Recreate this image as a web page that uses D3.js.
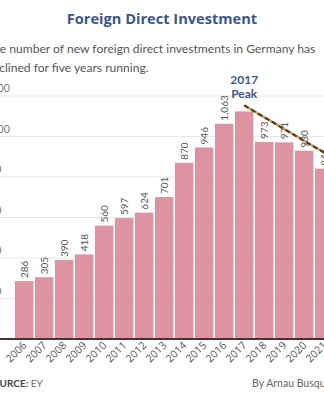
<!DOCTYPE html>
<html>
<head>
<meta charset="utf-8">
<script src="https://cdn.jsdelivr.net/npm/d3@7"></script>
<style>
  html, body { margin: 0; padding: 0; background: #fff; }
  svg { display: block; font-family: Lato, "Open Sans", sans-serif; }
</style>
</head>
<body>
<div id="chart"></div>
<script>
// FDI projects per year (EY)
const years = ["2006", "2007", "2008", "2009", "2010", "2011", "2012", "2013", "2014",
               "2015", "2016", "2017", "2018", "2019", "2020", "2021", "2022"];
const projects = [286, 305, 390, 418, 560, 597, 624, 701, 870,
                  946, 1063, 1124, 973, 971, 930, 841, 832];
const yTicks = [0, 200, 400, 600, 800, 1000, 1200];
const peakYear = "2017";
const trendEnd = "2022";

const width = 324, height = 400;
const baseline = 339;

const svg = d3.select("#chart")
    .append("svg")
    .attr("width", width)
    .attr("height", height)
    .attr("viewBox", [0, 0, width, height]);

const x = d3.scaleBand()
    .domain(years)
    .range([14.2, 14.2 + years.length * 20])
    .paddingInner(0.08)
    .paddingOuter(0.04);

const y = d3.scaleLinear()
    .domain([0, 1200])
    .range([baseline, 96]);

// Title + subtitle
svg.append("text")
    .attr("x", width / 2)
    .attr("y", 24)
    .attr("text-anchor", "middle")
    .attr("font-family", "'Open Sans', sans-serif")
    .attr("font-size", 14.6)
    .attr("font-weight", 700)
    .attr("fill", "#3d5689")
    .text("Foreign Direct Investment");

const sub = svg.append("text")
    .attr("font-size", 12.1)
    .attr("fill", "#555");
sub.append("tspan").attr("x", -14).attr("y", 53)
    .text("The number of new foreign direct investments in Germany has");
sub.append("tspan").attr("x", -14).attr("y", 72)
    .text("declined for five years running.");

// Grid
const grid = svg.append("g").attr("class", "grid");
grid.selectAll("line")
    .data(yTicks.filter(d => d > 0))
    .join("line")
    .attr("x1", 0).attr("x2", width)
    .attr("y1", d => y(d)).attr("y2", d => y(d))
    .attr("stroke", "#e8e8e8")
    .attr("stroke-width", 1);

grid.selectAll("text")
    .data(yTicks.filter(d => d > 0))
    .join("text")
    .attr("x", -17)
    .attr("y", d => y(d) - 4)
    .attr("font-size", 10.5)
    .attr("fill", "#777")
    .text(d => d3.format(",")(d));

// Bars
const bars = svg.append("g").attr("class", "bars");
bars.selectAll("rect")
    .data(years)
    .join("rect")
    .attr("x", d => x(d))
    .attr("y", (d, i) => y(projects[i]))
    .attr("width", x.bandwidth())
    .attr("height", (d, i) => baseline - y(projects[i]))
    .attr("fill", "#de93a3");

// Value labels (the peak year carries the annotation instead)
bars.selectAll("text")
    .data(years.filter(d => d !== peakYear))
    .join("text")
    .attr("transform", d => {
        const v = projects[years.indexOf(d)];
        return `translate(${x(d) + x.bandwidth() / 2 + 3.5},${y(v) - 3}) rotate(-90)`;
    })
    .attr("font-size", 10)
    .attr("fill", "#555")
    .text(d => d3.format(",")(projects[years.indexOf(d)]));

// Baseline
svg.append("line")
    .attr("x1", 0).attr("x2", width)
    .attr("y1", baseline).attr("y2", baseline)
    .attr("stroke", "#3f3535")
    .attr("stroke-width", 2);

// X labels
svg.append("g").selectAll("text")
    .data(years)
    .join("text")
    .attr("transform", d => `translate(${x(d) + x.bandwidth() / 2 + 3},${baseline + 7}) rotate(-45)`)
    .attr("text-anchor", "end")
    .attr("font-family", "'Open Sans', sans-serif")
    .attr("font-size", 10.5)
    .attr("fill", "#555")
    .text(d => d);

// Trend line from the peak, drawn slightly above the bar tops
const px = x(peakYear) + x.bandwidth() / 2;
const py = y(projects[years.indexOf(peakYear)]) - 6;
const ex = x(trendEnd) + x.bandwidth() / 2;
const ey = y(projects[years.indexOf(trendEnd)]) - 6;

svg.append("line")
    .attr("x1", px).attr("y1", py).attr("x2", ex).attr("y2", ey)
    .attr("stroke", "#c9a261")
    .attr("stroke-width", 2.6);
svg.append("line")
    .attr("x1", px).attr("y1", py).attr("x2", ex).attr("y2", ey)
    .attr("stroke", "#4a3820")
    .attr("stroke-width", 2)
    .attr("stroke-dasharray", "5,3");

// Peak annotation
const peak = svg.append("text")
    .attr("text-anchor", "middle")
    .attr("font-size", 12)
    .attr("font-weight", 700)
    .attr("fill", "#3d5689");
peak.append("tspan").attr("x", px).attr("y", py - 21).text(peakYear);
peak.append("tspan").attr("x", px).attr("y", py - 7).text("Peak");

// Footer
const src = svg.append("text")
    .attr("x", -14)
    .attr("y", 387)
    .attr("font-size", 10)
    .attr("fill", "#444");
src.append("tspan").attr("font-weight", 700).text("SOURCE: ");
src.append("tspan").attr("fill", "#666").text("EY");

svg.append("text")
    .attr("x", 252)
    .attr("y", 387)
    .attr("font-size", 10.5)
    .attr("fill", "#666")
    .text("By Arnau Busquets Guàrdia");
</script>
</body>
</html>
